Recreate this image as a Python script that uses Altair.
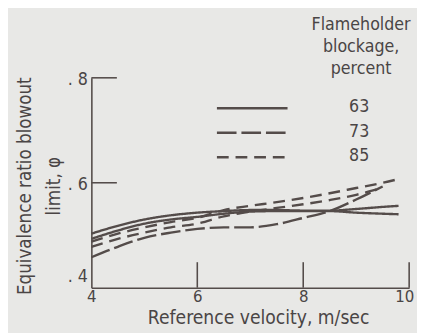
import altair as alt
import pandas as pd

# ---- data ----
blockages = ["63", "73", "85"]

s1_x = [4, 4.5, 5, 5.5, 6, 6.5, 7, 7.5, 8, 8.5, 9, 9.5, 9.8]
s1_y = [0.503, 0.518, 0.530, 0.538, 0.543, 0.546, 0.548, 0.548, 0.547, 0.547, 0.550, 0.554, 0.556]

s2_x = [4, 4.5, 5, 5.5, 6, 6.5, 7, 7.5, 8, 8.5, 9, 9.5, 9.8]
s2_y = [0.493, 0.509, 0.522, 0.530, 0.535, 0.541, 0.545, 0.546, 0.546, 0.546, 0.543, 0.541, 0.540]

l1_x = [4, 4.5, 5, 5.5, 6, 6.5, 7, 7.5, 8, 8.5, 9, 9.5]
l1_y = [0.458, 0.478, 0.495, 0.505, 0.512, 0.515, 0.515, 0.521, 0.533, 0.546, 0.568, 0.593]

d1_x = [4, 4.5, 5, 5.5, 6, 6.5, 7, 7.5, 8, 8.5, 9, 9.5, 9.8]
d1_y = [0.488, 0.503, 0.515, 0.525, 0.533, 0.548, 0.556, 0.563, 0.571, 0.580, 0.590, 0.600, 0.607]

d2_x = [4, 4.5, 5, 5.5, 6, 6.5, 7, 7.5, 8, 8.5, 9, 9.4]
d2_y = [0.478, 0.493, 0.505, 0.515, 0.522, 0.536, 0.545, 0.552, 0.559, 0.567, 0.577, 0.588]

x_ticks = [6, 8, 10]
y_ticks = [0.6, 0.8]
y_labels_at = [0.4, 0.6, 0.8]
x_labels_at = [4, 6, 8, 10]

curves = [
    ("63a", "63", s1_x, s1_y),
    ("63b", "63", s2_x, s2_y),
    ("73a", "73", l1_x, l1_y),
    ("85a", "85", d1_x, d1_y),
    ("85b", "85", d2_x, d2_y),
]
rows = []
for cid, blk, xs, ys in curves:
    for i, (xv, yv) in enumerate(zip(xs, ys)):
        rows.append({"curve": cid, "blockage": blk, "x": xv, "y": yv, "order": i})
df = pd.DataFrame(rows)

# ---- styling ----
INK = "#544c4a"
TXT = "#4a4545"
BG = "#e8e8e6"
FONT = "DejaVu Sans Condensed, Liberation Sans Narrow, sans-serif"
W, H = 324, 214

dash_scale = alt.Scale(domain=blockages, range=[[1, 0], [20, 5], [12, 7]])

xscale = alt.Scale(domain=[4, 10], nice=False, zero=False)
yscale = alt.Scale(domain=[0.4, 0.8], nice=False, zero=False)

lines = alt.Chart(df).mark_line(strokeWidth=2.4, color=INK, interpolate="monotone").encode(
    x=alt.X("x:Q", scale=xscale,
            axis=alt.Axis(values=x_labels_at, format="d", ticks=False, tickSize=0, grid=False,
                          labelPadding=1, labelFlush=False, labelFontSize=17,
                          labelOffset={"condition": {"test": "datum.value > 9.5", "value": -5},
                                       "value": 0},
                          title="Reference velocity, m/sec", titleFontSize=19.5,
                          titleFontWeight="normal", titleX=170, titleY=37,
                          titleBaseline="alphabetic", titleAlign="center")),
    y=alt.Y("y:Q", scale=yscale,
            axis=alt.Axis(values=y_labels_at, ticks=False, tickSize=0, grid=False,
                          labelPadding=4, labelFontSize=18,
                          labelExpr="'. ' + substring(format(datum.value, '.1f'), 2)",
                          labelOffset={"condition": {"test": "datum.value < 0.5", "value": -11},
                                       "value": 2},
                          title=["Equivalence ratio blowout", "limit, φ"],
                          titleFontSize=19, titleFontWeight="normal",
                          titleLineHeight=30, titleX=-58, titleY=110,
                          titleBaseline="bottom", titleAlign="center")),
    strokeDash=alt.StrokeDash("blockage:N", scale=dash_scale, legend=None),
    detail="curve:N",
    order="order:Q",
)

ytick_df = pd.DataFrame({"y": y_ticks})
yticks = alt.Chart(ytick_df).mark_rule(color=INK, strokeWidth=1.6).encode(
    y=alt.Y("y:Q", scale=yscale), x=alt.value(0), x2=alt.value(26)
)
xtick_df = pd.DataFrame({"x": x_ticks})
xticks = alt.Chart(xtick_df).mark_rule(color=INK, strokeWidth=1.6).encode(
    x=alt.X("x:Q", scale=xscale), y=alt.value(H), y2=alt.value(H - 26)
)

# ---- legend (drawn by hand, as in the figure) ----
leg_rows_y = [31, 56, 81]
legend_layers = []
for blk, yy in zip(blockages, leg_rows_y):
    ldf = pd.DataFrame({"blockage": [blk]})
    legend_layers.append(
        alt.Chart(ldf).mark_rule(color=INK, strokeWidth=2.4).encode(
            x=alt.value(128), x2=alt.value(200), y=alt.value(yy),
            strokeDash=alt.StrokeDash("blockage:N", scale=dash_scale, legend=None),
        )
    )
    legend_layers.append(
        alt.Chart(ldf).mark_text(fontSize=18, color=TXT, font=FONT, align="center",
                                 baseline="middle").encode(
            x=alt.value(273), y=alt.value(yy - 1), text="blockage:N"
        )
    )

title_df = pd.DataFrame({"t": ["Flameholder\nblockage,\npercent"]})
leg_title = alt.Chart(title_df).mark_text(
    fontSize=18, color=TXT, font=FONT, align="center", baseline="alphabetic",
    lineBreak="\n", lineHeight=22.5
).encode(x=alt.value(275), y=alt.value(-49), text="t:N")

chart = alt.layer(lines, yticks, xticks, *legend_layers, leg_title).properties(
    width=W, height=H,
    background=BG,
    autosize=alt.AutoSizeParams(type="none"),
    padding={"left": 85, "top": 68, "right": 8, "bottom": 43},
).configure_view(stroke=None).configure_axis(
    domainColor=INK, domainWidth=1.6, labelColor=TXT, titleColor=TXT,
    labelFont=FONT, titleFont=FONT,
)

chart.save("out.html", embed_options={"renderer": "svg", "actions": False})
